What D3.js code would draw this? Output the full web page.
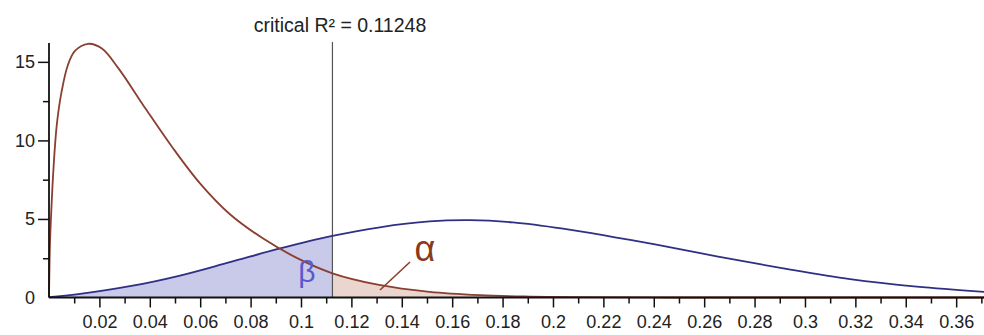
<!DOCTYPE html>
<html>
<head>
<meta charset="utf-8">
<script src="https://cdn.jsdelivr.net/npm/d3@7"></script>
<style>
  body { margin: 0; background: #fff; }
  text { font-family: "Liberation Sans", Arial, Helvetica, sans-serif; }
</style>
</head>
<body>
<div id="chart"></div>
<script>
// null distribution of R² (brown) and alternative (blue)
const nullX = [0, 0.0004, 0.001, 0.0017, 0.0031, 0.005, 0.0075, 0.0103, 0.0155, 0.021, 0.0275, 0.038, 0.049, 0.06, 0.0718, 0.085, 0.0983, 0.11248, 0.131, 0.151, 0.171, 0.191, 0.21, 0.24, 0.28, 0.372];
const nullY = [0, 3.5, 5.8, 8.0, 11.0, 13.1, 14.8, 15.7, 16.15, 15.85, 14.6, 12.1, 9.55, 7.25, 5.3, 3.75, 2.52, 1.54, 0.8, 0.36, 0.15, 0.06, 0.02, 0.003, 0, 0];
const altX = [0, 0.0116, 0.0321, 0.052, 0.0718, 0.0917, 0.11248, 0.1313, 0.151, 0.167, 0.184, 0.204, 0.224, 0.2405, 0.265, 0.2914, 0.3179, 0.3443, 0.372];
const altY = [0.02, 0.22, 0.72, 1.4, 2.25, 3.12, 3.92, 4.47, 4.84, 4.92, 4.78, 4.38, 3.85, 3.38, 2.62, 1.86, 1.17, 0.69, 0.35];
const critical = 0.11248;
const xMajor = [0.02, 0.04, 0.06, 0.08, 0.1, 0.12, 0.14, 0.16, 0.18, 0.2, 0.22, 0.24, 0.26, 0.28, 0.3, 0.32, 0.34, 0.36];
const xMinor = [0.01, 0.03, 0.05, 0.07, 0.09, 0.11, 0.13, 0.15, 0.17, 0.19, 0.21, 0.23, 0.25, 0.27, 0.29, 0.31, 0.33, 0.35, 0.37];
const yMajor = [5, 10, 15];
const yMinor = [2.5, 7.5, 12.5];

const width = 984, height = 335;
const svg = d3.select("#chart").append("svg")
  .attr("width", width)
  .attr("height", height);

const x = d3.scaleLinear().domain([0, 0.372]).range([49, 986.4]);
const y = d3.scaleLinear().domain([0, 16.2]).range([297.5, 43]);

const nullData = nullX.map((d, i) => ({ x: d, y: nullY[i] }));
const altData = altX.map((d, i) => ({ x: d, y: altY[i] }));

const defs = svg.append("defs");
defs.append("clipPath").attr("id", "left")
  .append("rect").attr("x", 0).attr("y", 0).attr("width", x(critical)).attr("height", y(0));
defs.append("clipPath").attr("id", "right")
  .append("rect").attr("x", x(critical)).attr("y", 0).attr("width", width).attr("height", y(0));

const curve = d3.curveCatmullRom.alpha(0.5);
const area = d3.area().x(d => x(d.x)).y0(y(0)).y1(d => y(d.y)).curve(curve);
const line = d3.line().x(d => x(d.x)).y(d => y(d.y)).curve(curve);

// shaded regions
svg.append("path").datum(altData)
  .attr("d", area).attr("fill", "#c9c9e9").attr("clip-path", "url(#left)");
svg.append("path").datum(nullData)
  .attr("d", area).attr("fill", "#ead6ce").attr("clip-path", "url(#right)");

// critical line
svg.append("line")
  .attr("x1", x(critical)).attr("x2", x(critical))
  .attr("y1", 42).attr("y2", y(0))
  .attr("stroke", "#555").attr("stroke-width", 1.2);
svg.append("text")
  .attr("x", 340).attr("y", 32)
  .attr("text-anchor", "middle")
  .attr("font-size", 19.5)
  .attr("fill", "#222")
  .text("critical R² = 0.11248");

// curves
svg.append("path").datum(altData)
  .attr("d", line).attr("fill", "none").attr("stroke", "#2f2f86").attr("stroke-width", 1.8);
svg.append("path").datum(nullData)
  .attr("d", line).attr("fill", "none").attr("stroke", "#8a3f30").attr("stroke-width", 1.8);

// labels
svg.append("text")
  .attr("x", 307).attr("y", 282)
  .attr("text-anchor", "middle")
  .attr("font-size", 30)
  .attr("fill", "#5a5acb")
  .text("β");
svg.append("line")
  .attr("x1", 410).attr("y1", 262).attr("x2", 380).attr("y2", 290)
  .attr("stroke", "#8a3f30").attr("stroke-width", 1.6);
svg.append("text")
  .attr("x", 425).attr("y", 261)
  .attr("text-anchor", "middle")
  .attr("font-size", 36)
  .attr("fill", "#8a3a1c")
  .text("α");

// axes
svg.append("g").attr("transform", `translate(0,${y(0)})`)
  .call(d3.axisBottom(x).tickValues(xMajor).tickSize(10).tickPadding(8).tickFormat(d => String(+d.toFixed(2))));
svg.append("g").attr("transform", `translate(0,${y(0)})`)
  .call(d3.axisBottom(x).tickValues(xMinor).tickSize(6).tickFormat(""));
const yAxis = svg.append("g").attr("transform", `translate(${x(0)},0)`)
  .call(d3.axisLeft(y).tickValues([0].concat(yMajor)).tickSize(11).tickPadding(3));
svg.append("g").attr("transform", `translate(${x(0)},0)`)
  .call(d3.axisLeft(y).tickValues(yMinor).tickSize(6).tickFormat(""));

svg.selectAll(".domain").remove();
svg.selectAll(".tick line").attr("stroke", "#111").attr("stroke-width", 1.5);
svg.selectAll(".tick text").attr("font-size", 18).attr("fill", "#222").attr("font-family", "Liberation Sans, Arial, sans-serif");
yAxis.selectAll(".tick").filter(d => d === 0).select("line").remove();
yAxis.selectAll(".tick").filter(d => d === 0).select("text").attr("x", -14);

svg.append("line").attr("x1", x(0)).attr("x2", width).attr("y1", y(0)).attr("y2", y(0))
  .attr("stroke", "#111").attr("stroke-width", 1.8);
svg.append("line").attr("x1", x(0)).attr("x2", x(0)).attr("y1", 43).attr("y2", y(0))
  .attr("stroke", "#111").attr("stroke-width", 1.8);
</script>
</body>
</html>
